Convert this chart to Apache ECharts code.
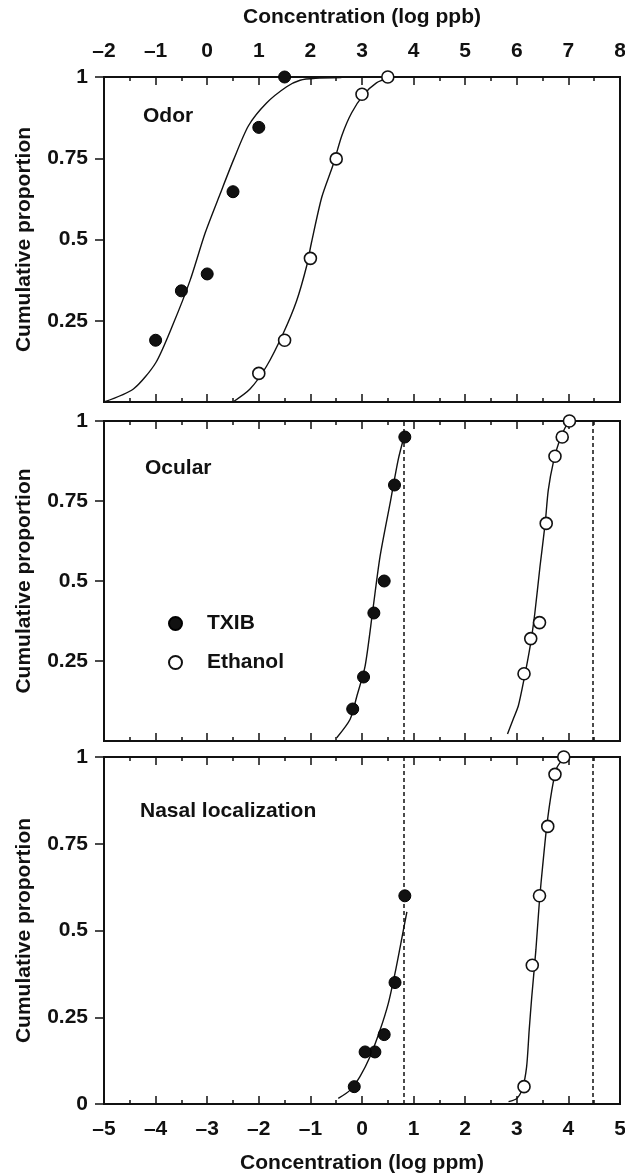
<!DOCTYPE html>
<html>
<head>
<meta charset="utf-8">
<title>Cumulative proportion vs concentration: TXIB and ethanol</title>
<style>
  html, body { margin: 0; padding: 0; background: #fff; }
  #chart { width: 625px; height: 1174px; }
</style>
</head>
<body>
<div id="chart"></div>
<script src="https://cdn.jsdelivr.net/npm/echarts@6/dist/echarts.min.js"></script>
<script>
// panel titles
const panelNames = ['Odor', 'Ocular', 'Nasal localization'];
const seriesNames = ['TXIB', 'Ethanol'];

// y ticks (proportion); the 0 tick only on the bottom panel
const yTicksUpper = [0.25, 0.5, 0.75, 1];
const yTicksLower = [0, 0.25, 0.5, 0.75, 1];

// odor panel, x in log ppb
const odorTxib = [[-1, 0.19], [-0.5, 0.342], [0, 0.394], [0.5, 0.647], [1, 0.845], [1.5, 1.0]];
const odorEthanol = [[1, 0.088], [1.5, 0.19], [2, 0.442], [2.5, 0.748], [3, 0.947], [3.5, 1.0]];
const odorTxibFit = [[-2, 0.0], [-1.43, 0.04], [-1.0, 0.12], [-0.66, 0.24], [-0.33, 0.375], [-0.04, 0.52],
  [0.25, 0.64], [0.51, 0.745], [0.8, 0.85], [1.15, 0.92], [1.54, 0.97], [1.8, 0.99], [2.1, 0.996], [2.6, 0.998]];
const odorEthanolFit = [[0.5, 0.0], [0.83, 0.04], [1.15, 0.11], [1.47, 0.21], [1.73, 0.31], [1.93, 0.42],
  [2.02, 0.49], [2.22, 0.63], [2.44, 0.73], [2.61, 0.82], [2.8, 0.89], [3.03, 0.945], [3.28, 0.982], [3.53, 0.998]];

// ocular panel, x in log ppm
const ocularTxib = [[0.83, 0.95], [0.63, 0.8], [0.43, 0.5], [0.23, 0.4], [0.03, 0.2], [-0.18, 0.1]];
const ocularEthanol = [[4.02, 1.0], [3.88, 0.95], [3.74, 0.89], [3.57, 0.68], [3.44, 0.37], [3.27, 0.32], [3.14, 0.21]];
const ocularTxibFit = [[-0.49, 0.01], [-0.23, 0.068], [-0.1, 0.14], [0.06, 0.234], [0.21, 0.41], [0.35, 0.577],
  [0.556, 0.753], [0.7, 0.878], [0.83, 0.96]];
const ocularEthanolFit = [[2.82, 0.022], [2.93, 0.068], [3.03, 0.11], [3.14, 0.193], [3.26, 0.297], [3.35, 0.4],
  [3.45, 0.546], [3.55, 0.68], [3.61, 0.784], [3.71, 0.872], [3.84, 0.945], [3.97, 0.99]];

// nasal localization panel, x in log ppm
const nasalTxib = [[0.83, 0.6], [0.64, 0.35], [0.43, 0.2], [0.25, 0.15], [0.06, 0.15], [-0.15, 0.05]];
const nasalEthanol = [[3.91, 1.0], [3.74, 0.95], [3.6, 0.8], [3.44, 0.6], [3.3, 0.4], [3.14, 0.05]];
const nasalTxibFit = [[-0.46, 0.016], [-0.23, 0.04], [-0.04, 0.079], [0.155, 0.136], [0.35, 0.213], [0.51, 0.29],
  [0.64, 0.377], [0.74, 0.453], [0.87, 0.554]];
const nasalEthanolFit = [[2.84, 0.007], [3.0, 0.016], [3.11, 0.045], [3.19, 0.107], [3.24, 0.213], [3.29, 0.309],
  [3.37, 0.444], [3.44, 0.588], [3.5, 0.684], [3.58, 0.8], [3.68, 0.905], [3.77, 0.967], [3.9, 0.996]];

// saturated vapour limits (dashed), log ppm: TXIB, ethanol
const vapourLimits = [0.8, 4.48];

(function () {
  const ink = '#111';
  const font = '"Liberation Sans", Arial, Helvetica, sans-serif';
  const txt = { color: ink, fontSize: 21, fontWeight: 'bold', fontFamily: font };
  const dash = v => String(v).replace('-', '\u2013');

  // v6 shrinks grids to keep labels inside; turn that off so the panels line up
  const grids = [
    { left: 104, top: 77, width: 516, height: 325 },
    { left: 104, top: 421, width: 516, height: 320 },
    { left: 104, top: 757, width: 516, height: 347 }
  ].map(g => Object.assign(g, {
    show: true, borderColor: ink, borderWidth: 2, backgroundColor: 'transparent',
    containLabel: false, outerBoundsMode: 'none'
  }));

  function xAxis(i, pos, min, max, showLabel, name) {
    return {
      type: 'value', gridIndex: i, position: pos, min: min, max: max, interval: 1,
      axisLine: { show: true, onZero: false, lineStyle: { color: ink, width: 2 } },
      axisTick: { show: true, inside: true, length: 8, lineStyle: { color: ink, width: 1.5 } },
      minorTick: { show: true, splitNumber: 2, length: 4, lineStyle: { color: ink, width: 1.5 } },
      splitLine: { show: false }, minorSplitLine: { show: false },
      axisLabel: Object.assign({ show: showLabel, margin: 15, formatter: dash, hideOverlap: false }, txt),
      name: name || '', nameLocation: 'middle', nameGap: 49,
      nameTextStyle: txt
    };
  }

  function yAxis(i, ticks) {
    return {
      type: 'value', gridIndex: i, min: 0, max: 1, interval: 0.25,
      axisLine: { show: true, onZero: false, lineStyle: { color: ink, width: 2 } },
      axisTick: { show: true, length: 9, customValues: ticks, lineStyle: { color: ink, width: 1.5 } },
      axisLabel: Object.assign({ margin: 16, customValues: ticks, formatter: v => String(v) }, txt),
      splitLine: { show: false },
      name: 'Cumulative proportion', nameLocation: 'middle', nameGap: 69, nameRotate: 90,
      nameTextStyle: txt
    };
  }

  const xAxes = [
    xAxis(0, 'bottom', -2, 8, false),
    xAxis(0, 'top', -2, 8, true, 'Concentration (log ppb)'),
    xAxis(1, 'bottom', -5, 5, false),
    xAxis(1, 'top', -5, 5, false),
    xAxis(2, 'bottom', -5, 5, true, 'Concentration (log ppm)'),
    xAxis(2, 'top', -5, 5, false)
  ];
  const yAxes = [yAxis(0, yTicksUpper), yAxis(1, yTicksUpper), yAxis(2, yTicksLower)];

  const fit = (i, data, extra) => Object.assign({
    type: 'line', xAxisIndex: i * 2, yAxisIndex: i, data: data,
    showSymbol: false, smooth: 0.25, silent: true, z: 2,
    lineStyle: { color: ink, width: 1.4 }
  }, extra || {});

  const limits = {
    silent: true, symbol: ['none', 'none'], label: { show: false },
    lineStyle: { color: ink, width: 1.5, type: [4, 3] },
    data: vapourLimits.map(v => ({ xAxis: v }))
  };

  const dots = (i, name, data) => ({
    type: 'scatter', name: name, xAxisIndex: i * 2, yAxisIndex: i, data: data,
    symbol: 'circle', symbolSize: 12, clip: false, z: 5,
    itemStyle: name === 'TXIB'
      ? { color: ink, borderColor: '#000', borderWidth: 1, opacity: 1 }
      : { color: '#fff', borderColor: ink, borderWidth: 1.6, opacity: 1 }
  });

  const series = [
    fit(0, odorTxibFit), fit(0, odorEthanolFit),
    dots(0, seriesNames[0], odorTxib), dots(0, seriesNames[1], odorEthanol),
    fit(1, ocularTxibFit, { markLine: limits }), fit(1, ocularEthanolFit),
    dots(1, seriesNames[0], ocularTxib), dots(1, seriesNames[1], ocularEthanol),
    fit(2, nasalTxibFit, { markLine: limits }), fit(2, nasalEthanolFit),
    dots(2, seriesNames[0], nasalTxib), dots(2, seriesNames[1], nasalEthanol)
  ];

  const titlePos = [[143, 106], [145, 458], [140, 801]];

  const option = {
    animation: false,
    backgroundColor: '#fff',
    grid: grids,
    xAxis: xAxes,
    yAxis: yAxes,
    legend: {
      data: seriesNames.map(n => ({ name: n, icon: 'circle' })),
      orient: 'vertical', left: 163, top: 608,
      itemWidth: 13, itemHeight: 13, itemGap: 18,
      selectedMode: false,
      textStyle: Object.assign({ padding: [0, 0, 0, 20] }, txt)
    },
    graphic: panelNames.map((t, i) => ({
      type: 'text', left: titlePos[i][0], top: titlePos[i][1],
      style: { text: t, fill: ink, font: 'bold 21px ' + font }
    })),
    series: series
  };

  echarts.init(document.getElementById('chart')).setOption(option);
})();
</script>
</body>
</html>
